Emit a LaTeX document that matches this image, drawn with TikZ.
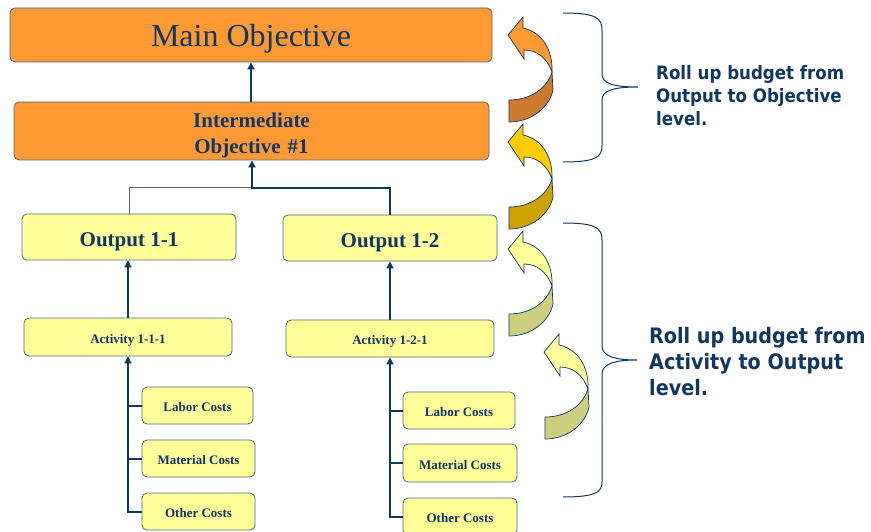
\documentclass[tikz,border=0pt]{standalone}
\usepackage{fontspec}
\setmainfont{Liberation Serif}
\newfontfamily\notefont[FakeStretch=0.9]{DejaVu Sans}
\usepackage{xcolor}
\usetikzlibrary{arrows.meta}
\definecolor{navy}{RGB}{16,54,98}
\definecolor{rim}{RGB}{80,104,132}
\definecolor{orng}{RGB}{255,153,51}
\definecolor{orngdk}{RGB}{206,122,46}
\definecolor{gold}{RGB}{255,204,0}
\definecolor{golddk}{RGB}{204,163,0}
\definecolor{lemon}{RGB}{255,255,153}
\definecolor{lemondk}{RGB}{206,206,128}
\tikzset{
  obj/.style={draw=rim,fill=orng,rounded corners=5pt,line width=0.8pt,text=navy,align=center},
  box/.style={draw=rim,fill=lemon,rounded corners=5pt,line width=0.8pt,text=navy,
    font=\bfseries\fontsize{13}{15}\selectfont,text height=12pt,text depth=0pt},
  big/.style={font=\bfseries\fontsize{21}{24}\selectfont,text height=19pt},
  up/.style={draw=navy,line width=2pt,-{Triangle[length=7pt,width=7pt]}},
  twig/.style={draw=navy,line width=2pt},
  hair/.style={draw=rim,line width=1pt},
  brc/.style={draw=navy,line width=1pt},
  note/.style={anchor=north west,inner sep=0pt,align=left,text=navy}
}
% curved roll-up arrow: #1 = lower end (upper corner), #2 front colour, #3 back colour
\newcommand{\rollarrow}[3]{
  \begin{scope}[shift={#1}]
    \filldraw[draw=navy,fill=#3,line width=0.7pt] (0,0) .. controls (22,0) and (38,-12) .. (43,-28)
      -- (44,-10) .. controls (40,8) and (22,22) .. (0,22) -- cycle;
    \filldraw[draw=navy,fill=#2,line width=0.7pt] (14,-72) .. controls (33,-68) and (44,-50) .. (43,-28)
      .. controls (38,-42) and (28,-50) .. (15,-50) -- (15,-41) -- (-1,-65) -- (14,-83) -- cycle;
  \end{scope}
}
\begin{document}
\begin{tikzpicture}[x=1pt,y=-1pt]
\useasboundingbox (0,0) rectangle (871,532);
% objectives
\node[obj,minimum width=482pt,minimum height=54pt,font=\fontsize{32}{36}\selectfont,
  text height=24pt,text depth=0pt] (main) at (251,35) {Main Objective};
\node[obj,minimum width=475pt,minimum height=58pt,font=\bfseries\fontsize{21}{26}\selectfont,
  text width=300pt,text height=0pt,text depth=6pt] (inter) at (251.5,131) {Intermediate\\Objective \#1};
% outputs
\node[box,big,minimum width=214pt,minimum height=46pt] (out11) at (129,237) {Output 1-1};
\node[box,big,minimum width=214pt,minimum height=46pt] (out12) at (390,238) {Output 1-2};
% activities
\node[box,minimum width=208pt,minimum height=38pt] (act11) at (128,337) {Activity 1-1-1};
\node[box,minimum width=208pt,minimum height=37pt] (act21) at (390,338.5) {Activity 1-2-1};
% costs
\node[box,minimum width=111pt,minimum height=37pt] (lab1) at (197.5,405.5) {Labor Costs};
\node[box,minimum width=113pt,minimum height=37pt] (mat1) at (198.5,458.5) {Material Costs};
\node[box,minimum width=113pt,minimum height=37pt] (oth1) at (198.5,511.5) {Other Costs};
\node[box,minimum width=112pt,minimum height=37pt] (lab2) at (459,410.5) {Labor Costs};
\node[box,minimum width=114pt,minimum height=38pt] (mat2) at (460,463) {Material Costs};
\node[box,minimum width=114pt,minimum height=37pt] (oth2) at (460,516.5) {Other Costs};
% connectors
\coordinate (join) at (252,188);
\draw[up] (inter.north -| main.south) -- (main.south);
\draw[hair] (out11.north) |- (join);
\draw[up] (out12.north) |- (join) -- (join |- inter.south);
\draw[up] (act11.north) -- (act11.north |- out11.south);
\draw[up] (act21.north) -- (act21.north |- out12.south);
\draw[up] (oth1.west) -| (act11.south);
\draw[twig] (lab1.west) -- (lab1.west -| act11.south);
\draw[twig] (mat1.west) -- (mat1.west -| act11.south);
\draw[up] (oth2.west) -| (act21.south);
\draw[twig] (lab2.west) -- (lab2.west -| act21.south);
\draw[twig] (mat2.west) -- (mat2.west -| act21.south);
% roll-up arrows
\rollarrow{(509,100)}{orng}{orngdk}
\rollarrow{(509,207)}{gold}{golddk}
\rollarrow{(509,314)}{lemon}{lemondk}
\rollarrow{(545,417)}{lemon}{lemondk}
% braces
\coordinate (tip1) at (638,87);
\coordinate (tip2) at (637,360);
\draw[brc] (563,13) .. controls (596,13) and (602,18) .. (602,30) -- (602,74)
  .. controls (602,83) and (612,87) .. (tip1) .. controls (612,87) and (602,91) .. (602,100)
  -- (602,146) .. controls (602,157) and (596,162) .. (563,162);
\draw[brc] (563,223) .. controls (596,223) and (602,228) .. (602,240) -- (602,346)
  .. controls (602,355) and (612,360) .. (tip2) .. controls (612,360) and (602,365) .. (602,374)
  -- (602,482) .. controls (602,492) and (596,497) .. (563,497);
% notes
\node[note,font=\notefont\bfseries\fontsize{18.5}{23}\selectfont] (note1) at (656,65) {Roll up budget from\\Output to Objective\\level.};
\node[note,font=\notefont\bfseries\fontsize{21.3}{26}\selectfont] (note2) at (649,327) {Roll up budget from\\Activity to Output\\level.};
\end{tikzpicture}
\end{document}
